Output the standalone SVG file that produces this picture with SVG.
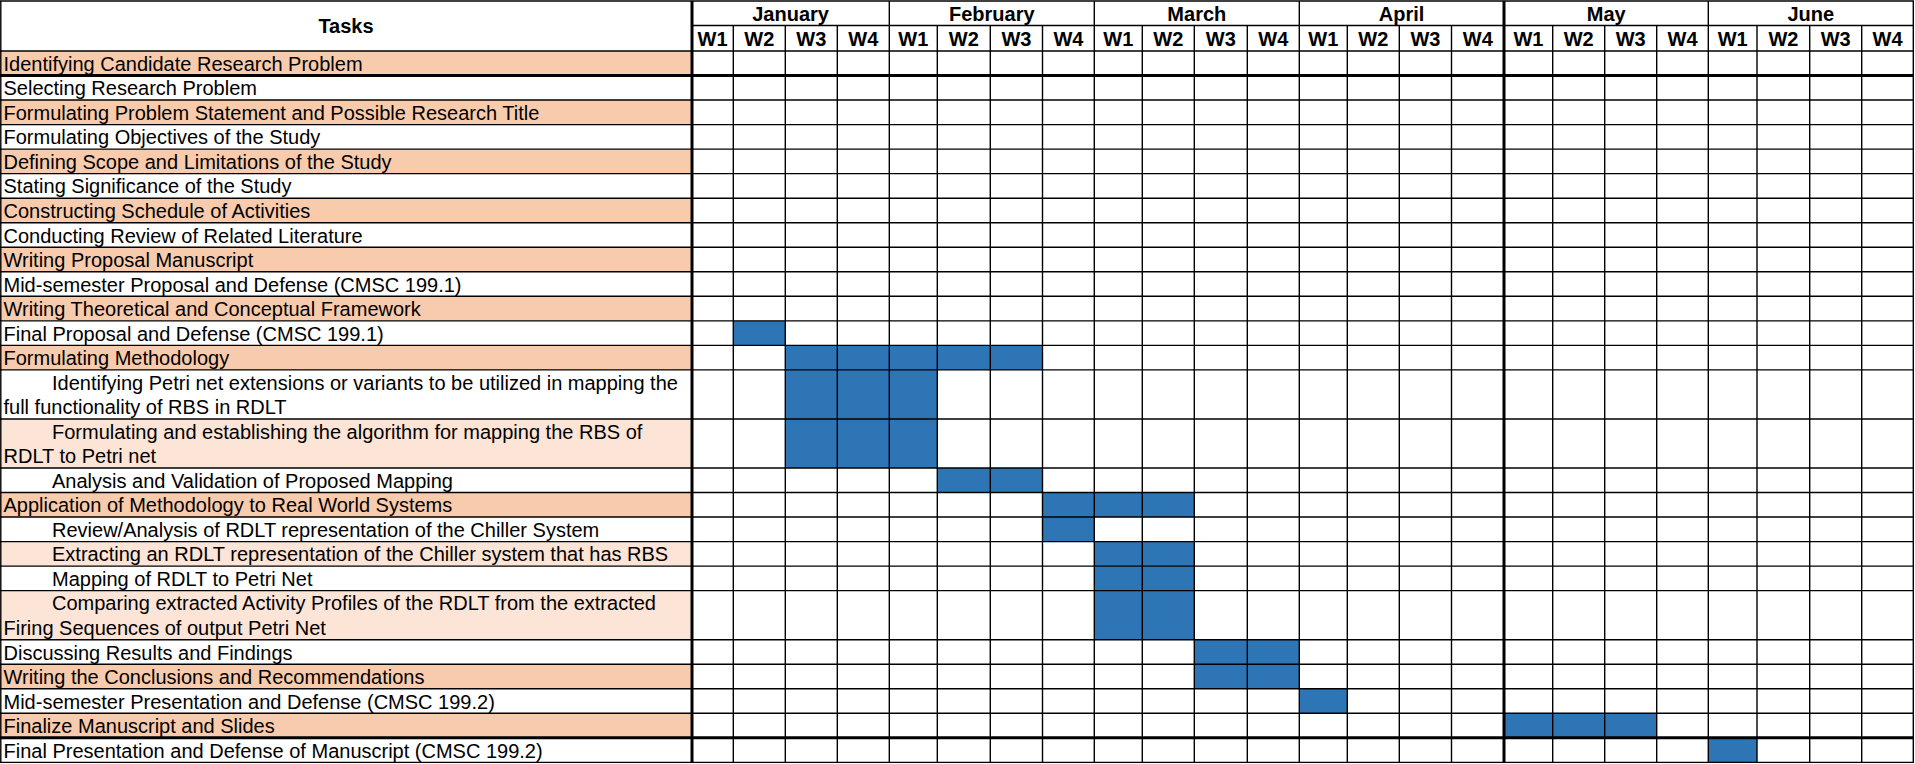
<svg xmlns="http://www.w3.org/2000/svg" width="1915" height="764" viewBox="0 0 1915 764">
<style>
text{font-family:"Liberation Sans",Arial,sans-serif;font-size:20px;fill:#000}
.h{font-weight:bold;text-anchor:middle}
.o{fill:#F8CBAD}
.l{fill:#FCE4D6}
.b{fill:#2E75B6}
.g line{stroke:#000;stroke-width:1.4}
.g line.t{stroke-width:3}
</style>
<rect x="0" y="0" width="1915" height="764" fill="#fff"/>
<g id="header">
<text class="h" x="346" y="33">Tasks</text>
<text class="h" x="790.6" y="20.5">January</text>
<text class="h" x="991.8" y="20.5">February</text>
<text class="h" x="1196.8" y="20.5">March</text>
<text class="h" x="1401.6" y="20.5">April</text>
<text class="h" x="1606.2" y="20.5">May</text>
<text class="h" x="1810.8" y="20.5">June</text>
<text class="h" x="712.6" y="46">W1</text><text class="h" x="759.3" y="46">W2</text><text class="h" x="811.3" y="46">W3</text><text class="h" x="863.3" y="46">W4</text>
<text class="h" x="913.3" y="46">W1</text><text class="h" x="963.8" y="46">W2</text><text class="h" x="1016.4" y="46">W3</text><text class="h" x="1068.4" y="46">W4</text>
<text class="h" x="1118.3" y="46">W1</text><text class="h" x="1168.3" y="46">W2</text><text class="h" x="1220.8" y="46">W3</text><text class="h" x="1273.3" y="46">W4</text>
<text class="h" x="1323.3" y="46">W1</text><text class="h" x="1373.3" y="46">W2</text><text class="h" x="1425.4" y="46">W3</text><text class="h" x="1477.8" y="46">W4</text>
<text class="h" x="1528.4" y="46">W1</text><text class="h" x="1578.7" y="46">W2</text><text class="h" x="1630.7" y="46">W3</text><text class="h" x="1682.5" y="46">W4</text>
<text class="h" x="1732.7" y="46">W1</text><text class="h" x="1783.4" y="46">W2</text><text class="h" x="1835.7" y="46">W3</text><text class="h" x="1887.5" y="46">W4</text>
</g>
<g id="row1"><rect class="o" x="0" y="51" width="692" height="24.53"/><text x="3.5" y="70.8">Identifying Candidate Research Problem</text></g>
<g id="row2"><text x="3.5" y="95.3">Selecting Research Problem</text></g>
<g id="row3"><rect class="o" x="0" y="100.06" width="692" height="24.53"/><text x="3.5" y="119.9">Formulating Problem Statement and Possible Research Title</text></g>
<g id="row4"><text x="3.5" y="144.4">Formulating Objectives of the Study</text></g>
<g id="row5"><rect class="o" x="0" y="149.12" width="692" height="24.53"/><text x="3.5" y="168.9">Defining Scope and Limitations of the Study</text></g>
<g id="row6"><text x="3.5" y="193.4">Stating Significance of the Study</text></g>
<g id="row7"><rect class="o" x="0" y="198.18" width="692" height="24.53"/><text x="3.5" y="218">Constructing Schedule of Activities</text></g>
<g id="row8"><text x="3.5" y="242.5">Conducting Review of Related Literature</text></g>
<g id="row9"><rect class="o" x="0" y="247.24" width="692" height="24.53"/><text x="3.5" y="267">Writing Proposal Manuscript</text></g>
<g id="row10"><text x="3.5" y="291.6">Mid-semester Proposal and Defense (CMSC 199.1)</text></g>
<g id="row11"><rect class="o" x="0" y="296.3" width="692" height="24.53"/><text x="3.5" y="316.1">Writing Theoretical and Conceptual Framework</text></g>
<g id="row12"><text x="3.5" y="340.6">Final Proposal and Defense (CMSC 199.1)</text><rect class="b" x="733.3" y="320.83" width="52" height="24.53"/></g>
<g id="row13"><rect class="o" x="0" y="345.36" width="692" height="24.53"/><text x="3.5" y="365.2">Formulating Methodology</text><rect class="b" x="785.3" y="345.36" width="257.2" height="24.53"/></g>
<g id="row14"><text x="52" y="389.7">Identifying Petri net extensions or variants to be utilized in mapping the</text><text x="3.5" y="414.2">full functionality of RBS in RDLT</text><rect class="b" x="785.3" y="369.89" width="152" height="49.06"/></g>
<g id="row15"><rect class="l" x="0" y="418.95" width="692" height="49.06"/><text x="52" y="438.8">Formulating and establishing the algorithm for mapping the RBS of</text><text x="3.5" y="463.3">RDLT to Petri net</text><rect class="b" x="785.3" y="418.95" width="152" height="49.06"/></g>
<g id="row16"><text x="52" y="487.8">Analysis and Validation of Proposed Mapping</text><rect class="b" x="937.3" y="468.01" width="105.2" height="24.53"/></g>
<g id="row17"><rect class="o" x="0" y="492.54" width="692" height="24.53"/><text x="3.5" y="512.3">Application of Methodology to Real World Systems</text><rect class="b" x="1042.5" y="492.54" width="151.8" height="24.53"/></g>
<g id="row18"><text x="52" y="536.9">Review/Analysis of RDLT representation of the Chiller System</text><rect class="b" x="1042.5" y="517.07" width="51.8" height="24.53"/></g>
<g id="row19"><rect class="l" x="0" y="541.6" width="692" height="24.53"/><text x="52" y="561.4">Extracting an RDLT representation of the Chiller system that has RBS</text><rect class="b" x="1094.3" y="541.6" width="100" height="24.53"/></g>
<g id="row20"><text x="52" y="585.9">Mapping of RDLT to Petri Net</text><rect class="b" x="1094.3" y="566.13" width="100" height="24.53"/></g>
<g id="row21"><rect class="l" x="0" y="590.66" width="692" height="49.06"/><text x="52" y="610.4">Comparing extracted Activity Profiles of the RDLT from the extracted</text><text x="3.5" y="634.9">Firing Sequences of output Petri Net</text><rect class="b" x="1094.3" y="590.66" width="100" height="49.06"/></g>
<g id="row22"><text x="3.5" y="659.5">Discussing Results and Findings</text><rect class="b" x="1194.3" y="639.72" width="105" height="24.53"/></g>
<g id="row23"><rect class="o" x="0" y="664.25" width="692" height="24.53"/><text x="3.5" y="684">Writing the Conclusions and Recommendations</text><rect class="b" x="1194.3" y="664.25" width="105" height="24.53"/></g>
<g id="row24"><text x="3.5" y="708.6">Mid-semester Presentation and Defense (CMSC 199.2)</text><rect class="b" x="1299.3" y="688.78" width="48" height="24.53"/></g>
<g id="row25"><rect class="o" x="0" y="713.31" width="692" height="24.53"/><text x="3.5" y="733.1">Finalize Manuscript and Slides</text><rect class="b" x="1504" y="713.31" width="152.7" height="24.53"/></g>
<g id="row26"><text x="3.5" y="757.6">Final Presentation and Defense of Manuscript (CMSC 199.2)</text><rect class="b" x="1708.3" y="737.84" width="48.7" height="24.53"/></g>
<g id="grid" class="g">
<line x1="0" y1="1" x2="1914" y2="1"/>
<line x1="692" y1="25.5" x2="1914" y2="25.5"/>
<line x1="0" y1="51" x2="1914" y2="51"/>
<line class="t" x1="0" y1="75.53" x2="1914" y2="75.53"/>
<line x1="0" y1="100.06" x2="1914" y2="100.06"/>
<line x1="0" y1="124.59" x2="1914" y2="124.59"/>
<line x1="0" y1="149.12" x2="1914" y2="149.12"/>
<line x1="0" y1="173.65" x2="1914" y2="173.65"/>
<line x1="0" y1="198.18" x2="1914" y2="198.18"/>
<line x1="0" y1="222.71" x2="1914" y2="222.71"/>
<line x1="0" y1="247.24" x2="1914" y2="247.24"/>
<line x1="0" y1="271.77" x2="1914" y2="271.77"/>
<line x1="0" y1="296.3" x2="1914" y2="296.3"/>
<line x1="0" y1="320.83" x2="1914" y2="320.83"/>
<line x1="0" y1="345.36" x2="1914" y2="345.36"/>
<line x1="0" y1="369.89" x2="1914" y2="369.89"/>
<line x1="0" y1="418.95" x2="1914" y2="418.95"/>
<line x1="0" y1="468.01" x2="1914" y2="468.01"/>
<line x1="0" y1="492.54" x2="1914" y2="492.54"/>
<line x1="0" y1="517.07" x2="1914" y2="517.07"/>
<line x1="0" y1="541.6" x2="1914" y2="541.6"/>
<line x1="0" y1="566.13" x2="1914" y2="566.13"/>
<line x1="0" y1="590.66" x2="1914" y2="590.66"/>
<line x1="0" y1="639.72" x2="1914" y2="639.72"/>
<line x1="0" y1="664.25" x2="1914" y2="664.25"/>
<line x1="0" y1="688.78" x2="1914" y2="688.78"/>
<line x1="0" y1="713.31" x2="1914" y2="713.31"/>
<line class="t" x1="0" y1="737.84" x2="1914" y2="737.84"/>
<line x1="0" y1="762.4" x2="1914" y2="762.4"/>
<line x1="0.8" y1="1" x2="0.8" y2="762.4"/>
<line class="t" x1="692" y1="1" x2="692" y2="762.4"/>
<line x1="733.3" y1="25.5" x2="733.3" y2="762.4"/>
<line x1="785.3" y1="25.5" x2="785.3" y2="762.4"/>
<line x1="837.3" y1="25.5" x2="837.3" y2="762.4"/>
<line x1="889.3" y1="1" x2="889.3" y2="762.4"/>
<line x1="937.3" y1="25.5" x2="937.3" y2="762.4"/>
<line x1="990.3" y1="25.5" x2="990.3" y2="762.4"/>
<line x1="1042.5" y1="25.5" x2="1042.5" y2="762.4"/>
<line x1="1094.3" y1="1" x2="1094.3" y2="762.4"/>
<line x1="1142.3" y1="25.5" x2="1142.3" y2="762.4"/>
<line x1="1194.3" y1="25.5" x2="1194.3" y2="762.4"/>
<line x1="1247.3" y1="25.5" x2="1247.3" y2="762.4"/>
<line x1="1299.3" y1="1" x2="1299.3" y2="762.4"/>
<line x1="1347.3" y1="25.5" x2="1347.3" y2="762.4"/>
<line x1="1399.3" y1="25.5" x2="1399.3" y2="762.4"/>
<line x1="1451.5" y1="25.5" x2="1451.5" y2="762.4"/>
<line class="t" x1="1504" y1="1" x2="1504" y2="762.4"/>
<line x1="1552.7" y1="25.5" x2="1552.7" y2="762.4"/>
<line x1="1604.7" y1="25.5" x2="1604.7" y2="762.4"/>
<line x1="1656.7" y1="25.5" x2="1656.7" y2="762.4"/>
<line x1="1708.3" y1="1" x2="1708.3" y2="762.4"/>
<line x1="1757" y1="25.5" x2="1757" y2="762.4"/>
<line x1="1809.7" y1="25.5" x2="1809.7" y2="762.4"/>
<line x1="1861.7" y1="25.5" x2="1861.7" y2="762.4"/>
<line x1="1913.3" y1="1" x2="1913.3" y2="762.4"/>
</g>
</svg>
